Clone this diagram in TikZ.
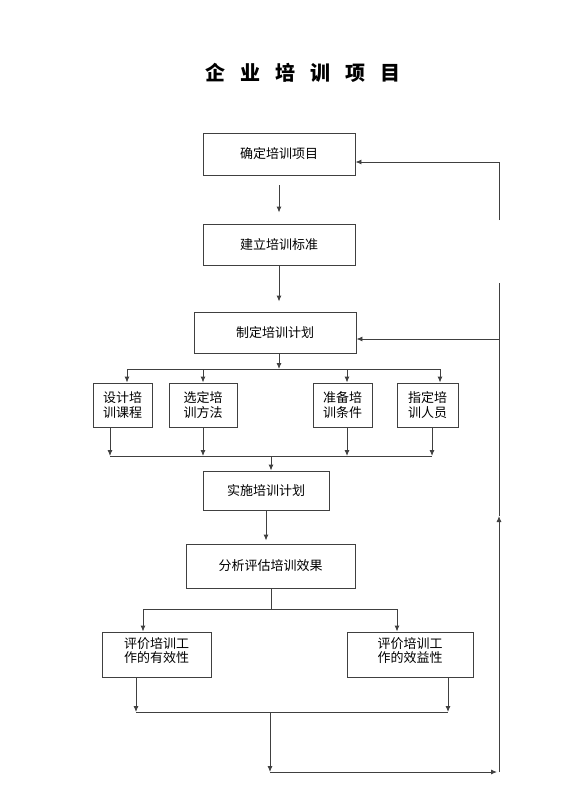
\documentclass[tikz,border=0pt]{standalone}
\usepackage{fontspec}
\setmainfont{Noto Sans CJK SC}
\usetikzlibrary{arrows.meta}
\tikzset{
  box/.style={draw=black!75, line width=0.9pt, inner sep=2pt, align=center, font=\fontsize{13}{14.5}\selectfont},
  ln/.style={draw=black!75, line width=0.9pt},
  arr/.style={ln, -{Latex[length=6pt,width=5pt]}}
}
\begin{document}
\begin{tikzpicture}[x=1pt,y=-1pt]
\useasboundingbox (0,0) rectangle (560,792);
\node (title) at (303,73) {\fontsize{20}{24}\selectfont\bfseries 企\hspace{15pt}业\hspace{15pt}培\hspace{15pt}训\hspace{15pt}项\hspace{15pt}目};
% boxes
\node[box, minimum width=152pt, minimum height=42pt] (b1) at (279,154) {确定培训项目};
\node[box, minimum width=152pt, minimum height=41pt] (b2) at (279,244.5) {建立培训标准};
\node[box, minimum width=162pt, minimum height=41pt] (b3) at (275,332.5) {制定培训计划};
\node[box, minimum width=59pt, minimum height=44pt] (A) at (122.5,405) {设计培\\训课程};
\node[box, minimum width=68pt, minimum height=44pt] (B) at (203,405) {选定培\\训方法};
\node[box, minimum width=59pt, minimum height=44pt] (C) at (342.5,405) {准备培\\训条件};
\node[box, minimum width=61pt, minimum height=44pt] (D) at (427.5,405) {指定培\\训人员};
\node[box, minimum width=126pt, minimum height=39pt] (E) at (266,490.5) {实施培训计划};
\node[box, minimum width=169pt, minimum height=44pt] (F) at (270.5,566) {分析评估培训效果};
\node[box, minimum width=109pt, minimum height=45pt, text depth=9pt] (G) at (156.5,654.5) {评价培训工\\作的有效性};
\node[box, minimum width=126pt, minimum height=45pt, text depth=9pt] (H) at (410,654.5) {评价培训工\\作的效益性};
% junction coordinates
\coordinate (j1) at (279,369);
\coordinate (jA) at (127,369);
\coordinate (jB) at (203,369);
\coordinate (jC) at (347,369);
\coordinate (jD) at (440,369);
\coordinate (kA) at (110,456);
\coordinate (kB) at (203,456);
\coordinate (kC) at (347,456);
\coordinate (kD) at (432,456);
\coordinate (k1) at (271,456);
\coordinate (m1) at (271,609);
\coordinate (mG) at (143,609);
\coordinate (mH) at (397,609);
\coordinate (nG) at (136,712);
\coordinate (nH) at (448,712);
\coordinate (n1) at (270,712);
\coordinate (p1) at (270,772);
\coordinate (p2) at (499,772);
\coordinate (pm) at (499,516);
\coordinate (q1) at (499,283);
\coordinate (q2) at (499,220);
\coordinate (q3) at (499,162);
\coordinate (r3) at (499,339);
% connectors
\draw[arr, shorten <=10pt, shorten >=11pt] (b1.south) -- (b2.north);
\draw[arr, shorten >=10pt] (b2.south) -- (b2.south |- b3.north);
\draw[arr] (j1 |- b3.south) -- (j1);
\draw[ln] (jA) -- (jD);
\draw[arr] (jA) -- (jA |- A.north);
\draw[arr] (jB) -- (jB |- B.north);
\draw[arr] (jC) -- (jC |- C.north);
\draw[arr] (jD) -- (jD |- D.north);
\draw[arr] (kA |- A.south) -- (kA);
\draw[arr] (kB |- B.south) -- (kB);
\draw[arr] (kC |- C.south) -- (kC);
\draw[arr] (kD |- D.south) -- (kD);
\draw[ln] (kA) -- (kD);
\draw[arr] (k1) -- (k1 |- E.north);
\draw[arr, shorten >=3pt] (E.south) -- (E.south |- F.north);
\draw[ln] (m1 |- F.south) -- (m1);
\draw[ln] (mG) -- (mH);
\draw[arr] (mG) -- (mG |- G.north);
\draw[arr] (mH) -- (mH |- H.north);
\draw[arr] (nG |- G.south) -- (nG);
\draw[arr] (nH |- H.south) -- (nH);
\draw[ln] (nG) -- (nH);
\draw[arr] (n1) -- (p1);
\draw[arr, shorten >=2pt] (p1) -- (p2);
\draw[arr] (p2) -- (pm);
\draw[ln] (pm) -- (q1);
\draw[ln] (q2) -- (q3);
\draw[arr] (q3) -- (q3 -| b1.east);
\draw[arr] (r3) -- (r3 -| b3.east);
\end{tikzpicture}
\end{document}
